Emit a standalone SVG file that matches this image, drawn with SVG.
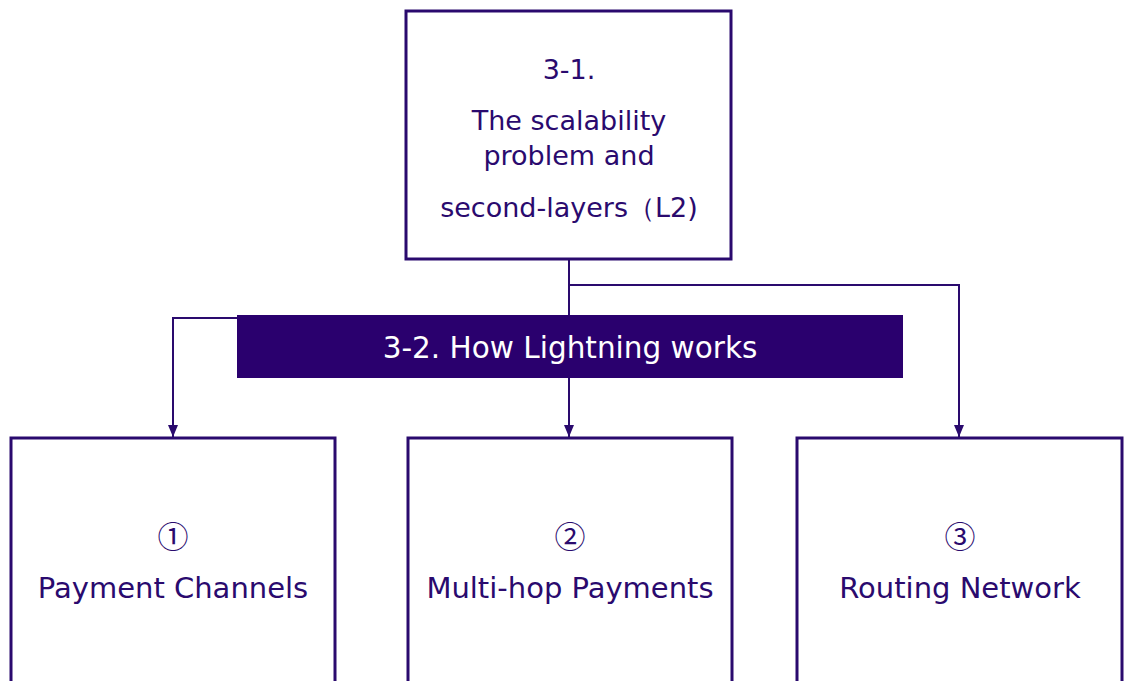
<svg xmlns="http://www.w3.org/2000/svg" width="1125" height="681" viewBox="0 0 1125 681">
<style>
.box{fill:#fff;stroke:#2a0a6e;stroke-width:3}
.t{font-family:"DejaVu Sans",sans-serif;fill:#2a0a6e;text-anchor:middle;font-size:27px}
.b{font-size:29px}
.n{font-family:"Noto Sans CJK JP","DejaVu Sans",sans-serif;fill:#2a0a6e;text-anchor:middle;font-size:31px}
.w{font-family:"DejaVu Sans",sans-serif;fill:#fff;text-anchor:middle;font-size:29.5px}
.c{fill:none;stroke:#2a0a6e;stroke-width:2}
</style>
<defs>
<marker id="ah" markerWidth="12" markerHeight="10" refX="12" refY="5" orient="auto" markerUnits="userSpaceOnUse" viewBox="0 0 12 10">
<path d="M0,0 L12,5 L0,10 z" fill="#2a0a6e"/>
</marker>
</defs>
<g id="connectors">
<path class="c" d="M569,259 V285 H959 V437" marker-end="url(#ah)"/>
<path class="c" d="M569,259 V437" marker-end="url(#ah)"/>
<path class="c" d="M237,318 H173 V437" marker-end="url(#ah)"/>
</g>
<g id="n31">
<rect class="box" x="406" y="11" width="325" height="248"/>
<text class="t" x="569" y="79">3-1.</text>
<text class="t" x="569" y="130">The scalability</text>
<text class="t" x="569" y="165">problem and</text>
<text class="t" x="569" y="217">second-layers（L2)</text>
</g>
<g id="n32">
<rect x="237" y="315" width="666" height="63" fill="#2a006e"/>
<text class="w" x="570" y="358">3-2. How Lightning works</text>
</g>
<g id="n1">
<rect class="box" x="11" y="438" width="324" height="260"/>
<text class="n" x="173" y="548">①</text>
<text class="t b" x="173" y="598">Payment Channels</text>
</g>
<g id="n2">
<rect class="box" x="408" y="438" width="324" height="260"/>
<text class="n" x="570" y="548">②</text>
<text class="t b" x="570" y="598">Multi-hop Payments</text>
</g>
<g id="n3">
<rect class="box" x="797" y="438" width="325" height="260"/>
<text class="n" x="960" y="548">③</text>
<text class="t b" x="960" y="598">Routing Network</text>
</g>
</svg>
